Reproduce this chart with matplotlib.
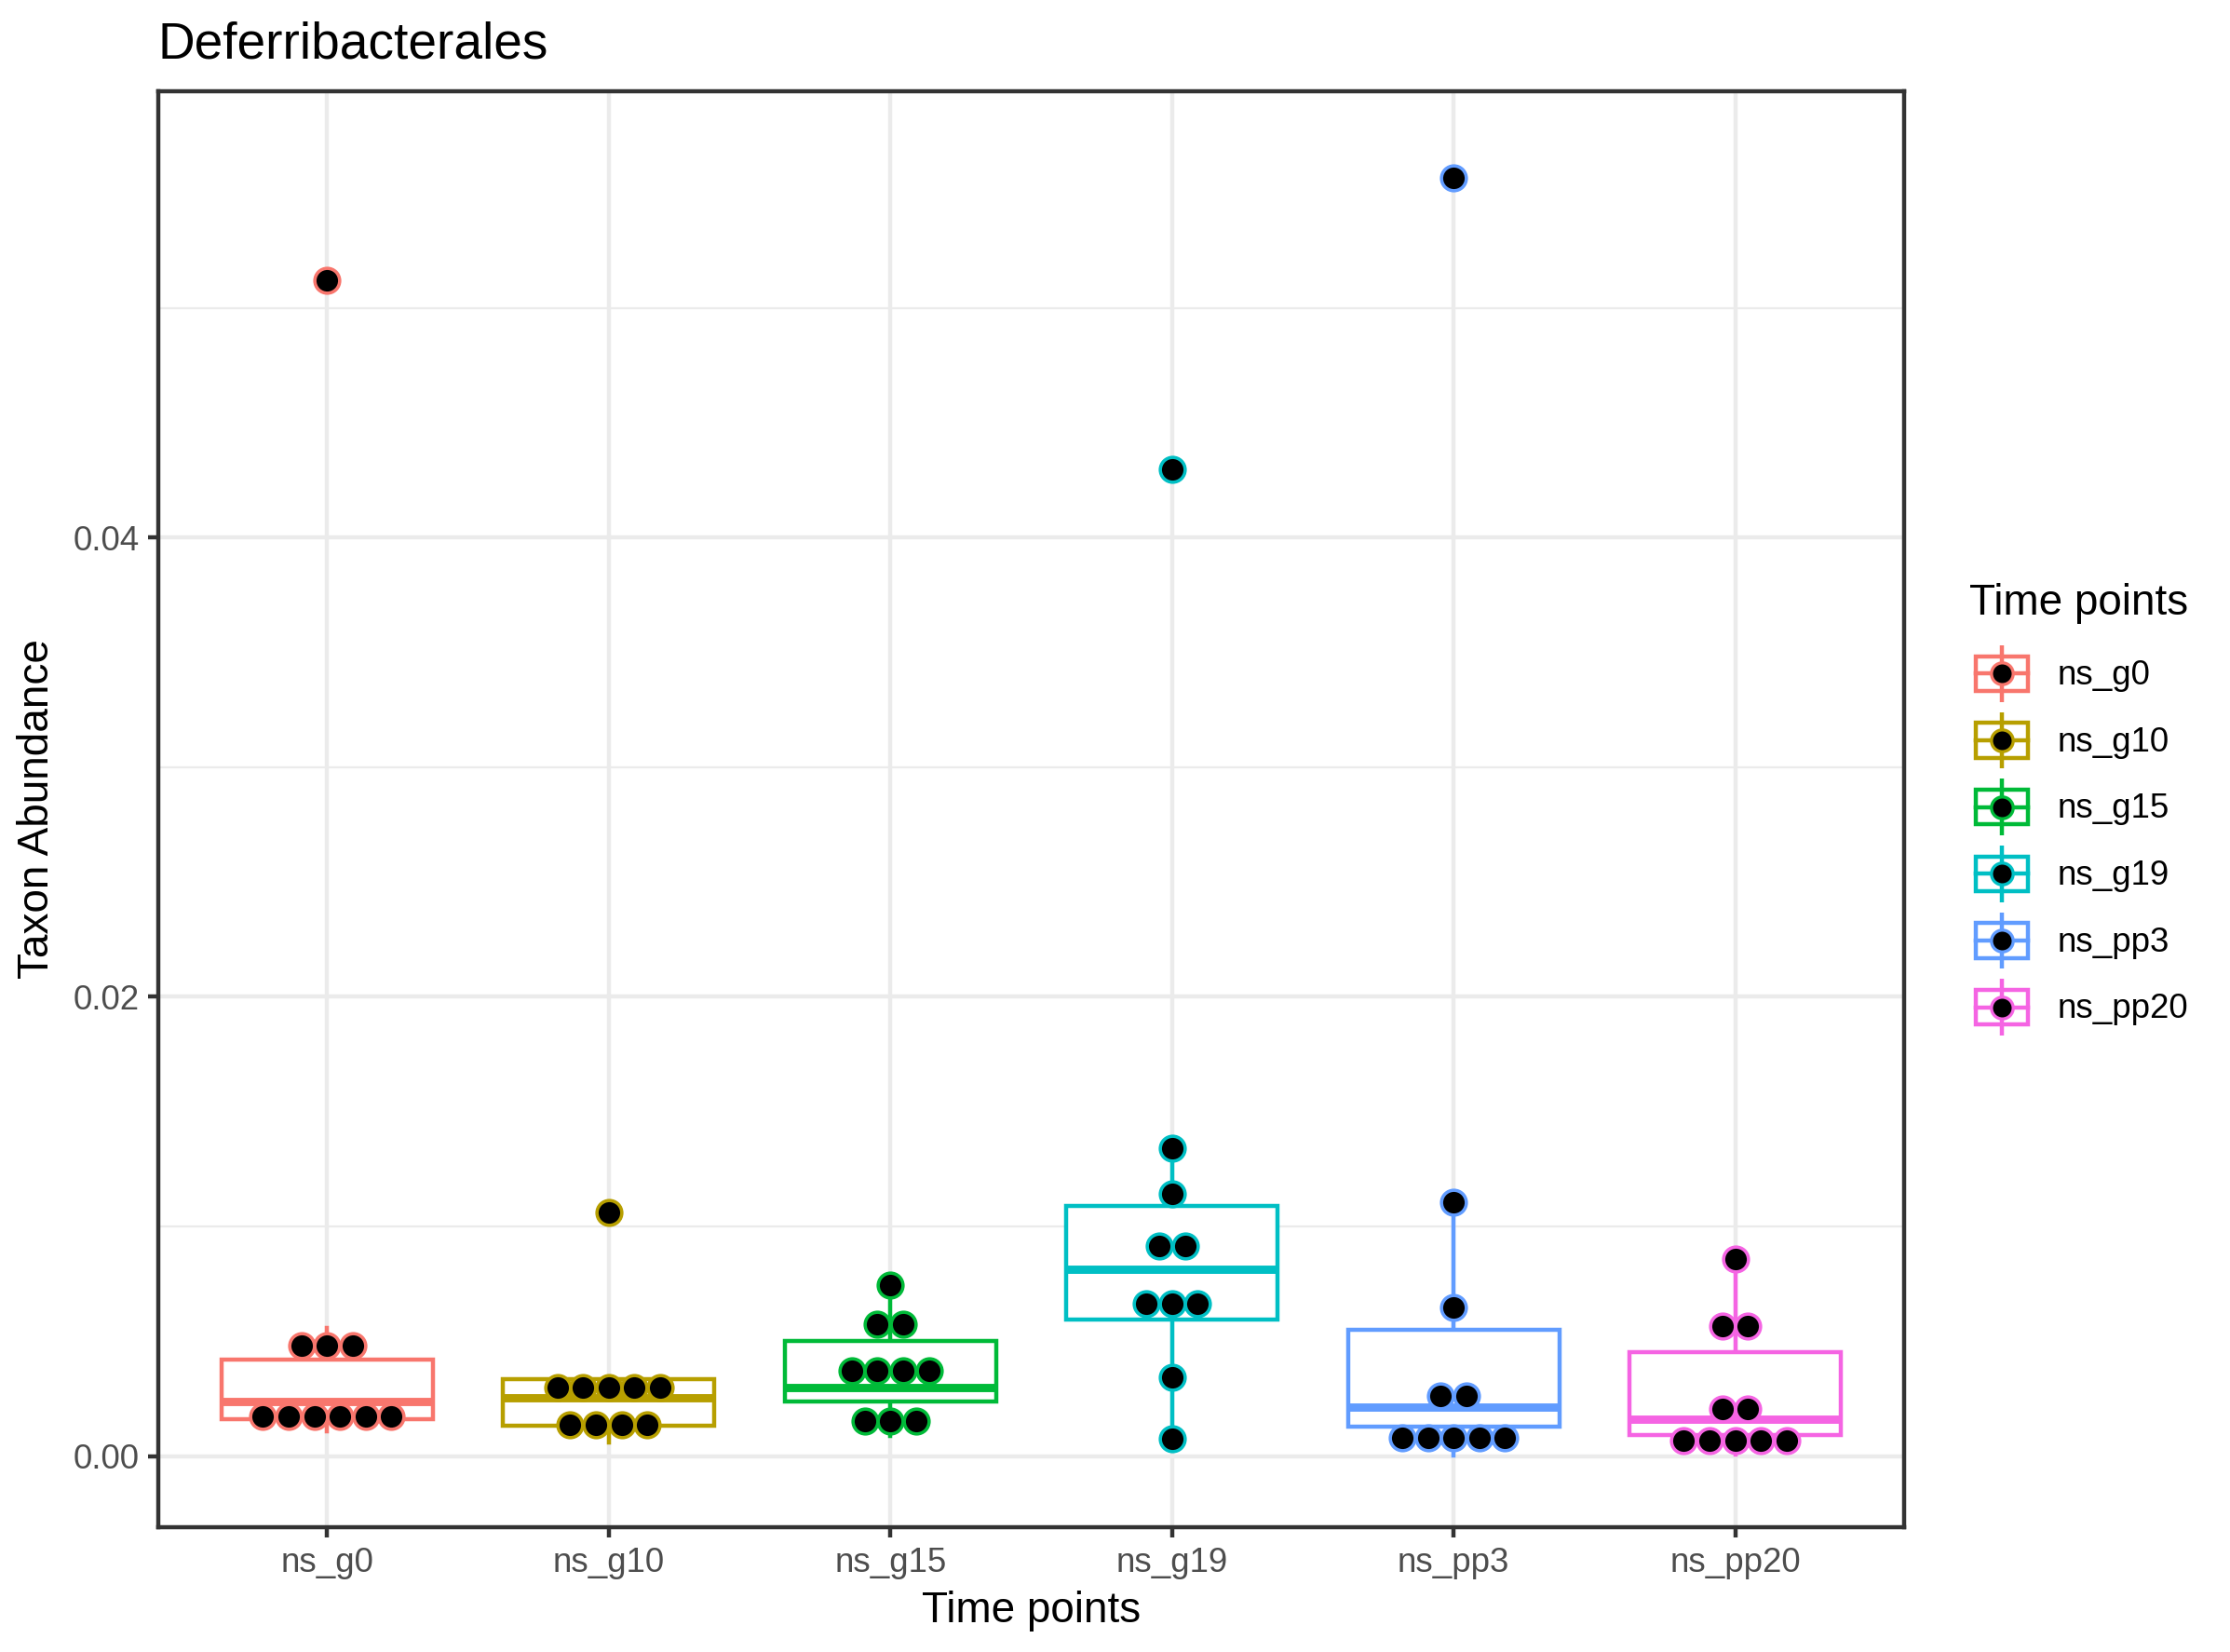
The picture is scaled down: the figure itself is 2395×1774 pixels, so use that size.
# Boxplot + dotplot of Deferribacterales abundance per time point

import numpy as np
import matplotlib
matplotlib.use("Agg")
import matplotlib.pyplot as plt
from matplotlib.patches import Rectangle
from matplotlib.ticker import FixedLocator
from matplotlib.transforms import ScaledTranslation

# ______________________________________________________________________________
# Data

groups = ["ns_g0", "ns_g10", "ns_g15", "ns_g19", "ns_pp3", "ns_pp20"]
colors = ["#F8766D", "#B79F00", "#00BA38", "#00BFC4", "#619CFF", "#F564E3"]

ns_g0 = [0.00108, 0.00120, 0.00160, 0.00167, 0.002344, 0.00240, 0.00400, 0.004275, 0.00558, 0.05119]
ns_g10 = [0.000604, 0.00080, 0.001027, 0.002144, 0.002492, 0.00255, 0.003228, 0.00340, 0.00344, 0.01063]
ns_g15 = [0.000875, 0.00160, 0.002195, 0.00296, 0.00296, 0.00297, 0.004456, 0.005203, 0.006261, 0.007445]
ns_g19 = [0.000766, 0.003437, 0.005896, 0.006048, 0.007348, 0.008946, 0.009374, 0.011426, 0.01341, 0.04296]
ns_pp3 = [0.00001, 0.00060, 0.001205, 0.00150, 0.00161, 0.002622, 0.002634, 0.006474, 0.011047, 0.05568]
ns_pp20 = [0.000064, 0.00040, 0.000837, 0.00110, 0.00128, 0.00195, 0.002146, 0.005307, 0.005995, 0.008593]

values = [ns_g0, ns_g10, ns_g15, ns_g19, ns_pp3, ns_pp20]

y_ticks = [0.0, 0.02, 0.04]
y_ticklabels = ["0.00", "0.02", "0.04"]

# ______________________________________________________________________________
# Style (ggplot theme_bw look)

plt.rcParams['font.family'] = ['Liberation Sans', 'DejaVu Sans']
grid_col = "#EBEBEB"
dark = "#333333"
lw = 1.07

W, H, dpi = 2395, 1774, 300

# dotdensity binning, as in geom_dotplot
allv = np.concatenate(values)
binwidth = (allv.max() - allv.min()) / 30.


def dot_bins(vals, bw):
    vals = np.sort(vals)
    bins = []
    end = -np.inf
    for v in vals:
        if v >= end:
            bins.append([])
            end = v + bw
        bins[-1].append(v)
    return [((min(b) + max(b)) / 2., len(b)) for b in bins]


bins = [dot_bins(v, binwidth) for v in values]

centers = np.array([c for b in bins for c, n in b])
lo = centers.min() - binwidth / 2.
hi = centers.max() + binwidth / 2.
pad = 0.05 * (hi - lo)

# ______________________________________________________________________________
# Figure

fig = plt.figure(figsize=(W / dpi, H / dpi), dpi=dpi)
ax = fig.add_axes([170 / W, 1 - 1640 / H, 1875 / W, 1542.2 / H])

pos = np.arange(1, len(groups) + 1)

bp = ax.boxplot(values, positions=pos, widths=0.75, whis=1.5, showfliers=False,
                showcaps=False, patch_artist=True)
for i, col in enumerate(colors):
    bp['boxes'][i].set(facecolor="white", edgecolor=col, linewidth=lw, zorder=2)
    bp['medians'][i].set(color=col, linewidth=2.13, zorder=2.1, solid_capstyle='butt')
    for w in bp['whiskers'][2 * i:2 * i + 2]:
        w.set(color=col, linewidth=lw, zorder=1.9)

# dots, stacked centred around each category
dot_step = 6.62  # points
for i, col in enumerate(colors):
    for c, n in bins[i]:
        for k in range(n):
            dx = (k - (n - 1) / 2.) * dot_step / 72.
            tr = ax.transData + ScaledTranslation(dx, 0, fig.dpi_scale_trans)
            ax.plot(pos[i], c, 'o', ms=6.4, mfc="black", mec=col, mew=0.85,
                    transform=tr, zorder=3)

ax.set_xlim(0.4, len(groups) + 0.6)
ax.set_ylim(lo - pad, hi + pad)

ax.set_xticks(pos)
ax.set_xticklabels(groups)
ax.set_yticks(y_ticks)
ax.set_yticklabels(y_ticklabels)
ax.yaxis.set_minor_locator(FixedLocator([0.01, 0.03, 0.05]))

ax.set_axisbelow(True)
ax.grid(True, which='major', color=grid_col, linewidth=lw)
ax.grid(True, which='minor', axis='y', color=grid_col, linewidth=0.53)
ax.tick_params(which='major', length=2.75, width=lw, color=dark, labelcolor="#4D4D4D",
               labelsize=8.8, pad=2.2)
ax.tick_params(which='minor', length=0)
for s in ax.spines.values():
    s.set_color(dark)
    s.set_linewidth(lw)

ax.set_xlabel("Time points", fontsize=11, va='baseline')
ax.xaxis.set_label_coords(0.5, -0.0659)
ax.set_ylabel("Taxon Abundance", fontsize=11, va='center')
ax.yaxis.set_label_coords((40 - 170) / 1875., 0.5)

ax.text(0.0, 1.0226, "Deferribacterales", transform=ax.transAxes, fontsize=13.2,
        ha='left', va='baseline')

# ______________________________________________________________________________
# Legend, drawn by hand in pixel coordinates

lax = fig.add_axes([0, 0, 1, 1])
lax.set_xlim(0, W)
lax.set_ylim(H, 0)
lax.axis('off')

lax.text(2115, 660, "Time points", fontsize=11, ha='left', va='baseline')
for i, (g, col) in enumerate(zip(groups, colors)):
    cy = 723.3 + i * 71.67
    cx = 2150
    lax.plot([cx, cx], [cy - 30.3, cy + 30.3], color=col, lw=lw, solid_capstyle='butt')
    lax.add_patch(Rectangle((cx - 28.3, cy - 18.8), 56.6, 37.6, facecolor="white",
                            edgecolor=col, lw=lw))
    lax.plot([cx - 28.3, cx + 28.3], [cy, cy], color=col, lw=lw)
    lax.plot(cx, cy, 'o', ms=5.6, mfc="black", mec=col, mew=0.8)
    lax.text(2210, cy + 11.7, g, fontsize=8.8, ha='left', va='baseline')

fig.savefig("out.png", dpi=dpi)
